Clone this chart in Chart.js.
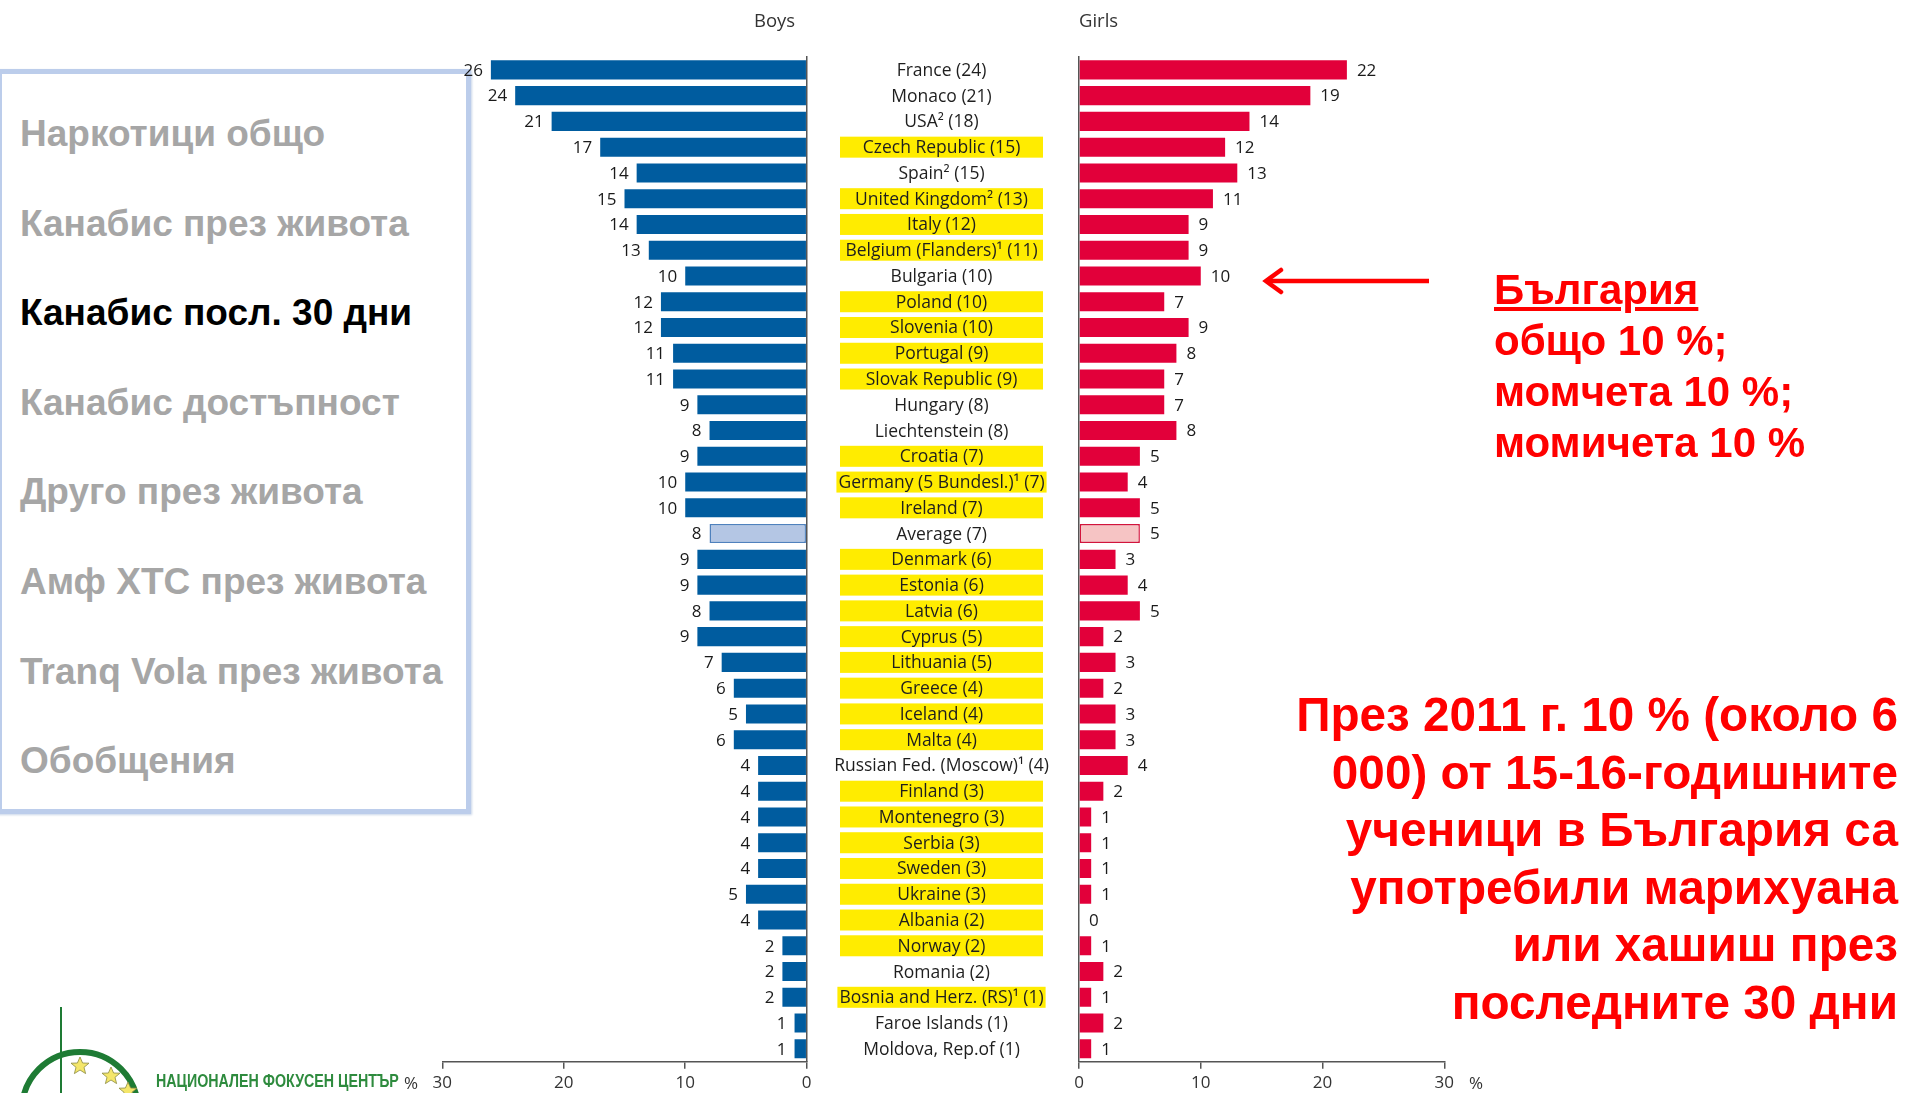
<!DOCTYPE html>
<html lang="bg">
<head>
<meta charset="utf-8">
<title>Канабис посл. 30 дни</title>
<script src="https://cdn.jsdelivr.net/npm/chart.js@4.4.1/dist/chart.umd.min.js"></script>
<style>
  body { margin: 0; background: #fff; width: 1907px; height: 1093px; overflow: hidden; position: relative;
         font-family: 'Liberation Sans', Arial, sans-serif; }
  canvas { position: absolute; left: 0; top: 0; }
  .menu-box { position: absolute; left: -3px; top: 69px; width: 474px; height: 745px; box-sizing: border-box;
              border: 5px solid #BCCDEB; box-shadow: 1px 1px 2px rgba(120,150,200,0.4); }
  .menu { position: absolute; left: 20px; font-weight: bold; font-size: 37px; line-height: 44px; color: #A6A6A6; white-space: nowrap; }
  .menu.active { color: #000; }
  .head { position: absolute; font-family: 'Open Sans', sans-serif; font-size: 18.5px; color: #333; line-height: 22px; }
  .pct { position: absolute; font-family: 'Open Sans', sans-serif; font-size: 17px; color: #333; line-height: 20px; }
  .note { position: absolute; color: #FF0000; font-weight: bold; white-space: nowrap; }
  #bg-note { left: 1494px; top: 264px; font-size: 42px; line-height: 51px; }
  #bg-note u { text-decoration-thickness: 4px; text-underline-offset: 3px; }
  #year-note { right: 9px; top: 686px; font-size: 47.7px; line-height: 57.6px; text-align: right; }
  #logo-text { position: absolute; left: 156px; top: 1069px; font-size: 19px; line-height: 24px; color: #2E8B3E;
               font-weight: bold; transform: scaleX(0.75); transform-origin: left center; white-space: nowrap; }
</style>
</head>
<body>

<div class="menu-box"></div>
<div id="menu"></div>

<canvas id="boysChart" width="1907" height="1093"></canvas>
<canvas id="girlsChart" width="1907" height="1093"></canvas>

<div class="head" style="left:754px; top:9px;">Boys</div>
<div class="head" style="left:1079px; top:9px;">Girls</div>
<div class="pct" style="left:404px; top:1073px;">%</div>
<div class="pct" style="left:1469px; top:1073px;">%</div>

<svg style="position:absolute; left:0; top:0;" width="1907" height="1093">
  <!-- arrow pointing to Bulgaria -->
  <line x1="1429" y1="281" x2="1268" y2="281" stroke="#FF0000" stroke-width="4.5"/>
  <polyline points="1281,270 1266,281 1281,292" fill="none" stroke="#FF0000" stroke-width="4.5" stroke-linecap="round"/>
  <!-- logo -->
  <line x1="61" y1="1007" x2="61" y2="1093" stroke="#1E7B34" stroke-width="2"/>
  <circle cx="80" cy="1110" r="58" fill="none" stroke="#1E7B34" stroke-width="6"/>
  <polygon points="0,-9 2.6,-3 9,-2.8 4,1.3 5.6,7.6 0,4 -5.6,7.6 -4,1.3 -9,-2.8 -2.6,-3"
           fill="#F4E66A" stroke="#8a8a40" stroke-width="0.8" transform="translate(80,1066)"/>
  <polygon points="0,-9 2.6,-3 9,-2.8 4,1.3 5.6,7.6 0,4 -5.6,7.6 -4,1.3 -9,-2.8 -2.6,-3"
           fill="#F4E66A" stroke="#8a8a40" stroke-width="0.8" transform="translate(111,1076)"/>
  <polygon points="0,-9 2.6,-3 9,-2.8 4,1.3 5.6,7.6 0,4 -5.6,7.6 -4,1.3 -9,-2.8 -2.6,-3"
           fill="#F4E66A" stroke="#8a8a40" stroke-width="0.8" transform="translate(128,1091)"/>
</svg>
<div id="logo-text">НАЦИОНАЛЕН ФОКУСЕН ЦЕНТЪР</div>

<div class="note" id="bg-note"><u>България</u><br>общо 10 %;<br>момчета 10 %;<br>момичета 10 %</div>
<div class="note" id="year-note">През 2011 г. 10 % (около 6<br>000) от 15-16-годишните<br>ученици в България са<br>употребили марихуана<br>или хашиш през<br>последните 30 дни</div>

<script>
// data
const countries = [
  'France (24)', 'Monaco (21)', 'USA² (18)', 'Czech Republic (15)', 'Spain² (15)',
  'United Kingdom² (13)', 'Italy (12)', 'Belgium (Flanders)¹ (11)', 'Bulgaria (10)', 'Poland (10)',
  'Slovenia (10)', 'Portugal (9)', 'Slovak Republic (9)', 'Hungary (8)', 'Liechtenstein (8)',
  'Croatia (7)', 'Germany (5 Bundesl.)¹ (7)', 'Ireland (7)', 'Average (7)', 'Denmark (6)',
  'Estonia (6)', 'Latvia (6)', 'Cyprus (5)', 'Lithuania (5)', 'Greece (4)',
  'Iceland (4)', 'Malta (4)', 'Russian Fed. (Moscow)¹ (4)', 'Finland (3)', 'Montenegro (3)',
  'Serbia (3)', 'Sweden (3)', 'Ukraine (3)', 'Albania (2)', 'Norway (2)',
  'Romania (2)', 'Bosnia and Herz. (RS)¹ (1)', 'Faroe Islands (1)', 'Moldova, Rep.of (1)'
];
const boys = [26, 24, 21, 17, 14, 15, 14, 13, 10, 12, 12, 11, 11, 9, 8, 9, 10, 10, 8, 9,
              9, 8, 9, 7, 6, 5, 6, 4, 4, 4, 4, 4, 5, 4, 2, 2, 2, 1, 1];
const girls = [22, 19, 14, 12, 13, 11, 9, 9, 10, 7, 9, 8, 7, 7, 8, 5, 4, 5, 5, 3,
               4, 5, 2, 3, 2, 3, 3, 4, 2, 1, 1, 1, 1, 0, 1, 2, 1, 2, 1];
// rows with the yellow label background
const highlighted = [0, 0, 0, 1, 0, 1, 1, 1, 0, 1, 1, 1, 1, 0, 0, 1, 1, 1, 0, 1,
                     1, 1, 1, 1, 1, 1, 1, 0, 1, 1, 1, 1, 1, 1, 1, 0, 1, 0, 0];
const xTicks = [0, 10, 20, 30];
const menuItems = ['Наркотици общо', 'Канабис през живота', 'Канабис посл. 30 дни', 'Канабис достъпност',
                   'Друго през живота', 'Амф XTC през живота', 'Tranq Vola през живота', 'Обобщения'];
const activeMenu = 2;

const avgIdx = countries.indexOf('Average (7)');
const FONT = "'Open Sans', sans-serif";

// left menu
const menu = document.getElementById('menu');
menuItems.forEach((t, i) => {
  const d = document.createElement('div');
  d.className = 'menu' + (i === activeMenu ? ' active' : '');
  d.style.top = (134 + i * 89.6 - 22) + 'px';
  d.textContent = t;
  menu.appendChild(d);
});

const valueLabels = {
  id: 'valueLabels',
  afterDatasetsDraw(chart, args, opts) {
    const ctx = chart.ctx;
    const data = chart.data.datasets[0].data;
    ctx.save();
    ctx.font = '17px ' + FONT;
    ctx.fillStyle = '#1a1a1a';
    ctx.textBaseline = 'middle';
    ctx.textAlign = opts.left ? 'right' : 'left';
    chart.getDatasetMeta(0).data.forEach((bar, i) => {
      ctx.fillText(String(data[i]), opts.left ? bar.x - 8 : bar.x + 10, bar.y + 1);
    });
    ctx.restore();
  }
};

const countryLabels = {
  id: 'countryLabels',
  afterDraw(chart) {
    const ctx = chart.ctx, y = chart.scales.y;
    const cx = 941.5;
    ctx.save();
    ctx.font = '17.5px ' + FONT;
    ctx.textAlign = 'center';
    ctx.textBaseline = 'middle';
    countries.forEach((name, i) => {
      const cy = y.getPixelForValue(i);
      if (highlighted[i]) {
        const bw = Math.max(203, ctx.measureText(name).width + 4);
        ctx.fillStyle = '#FFEC00';
        ctx.fillRect(cx - bw / 2, cy - 10.5, bw, 21);
      }
      ctx.fillStyle = '#1e1e1e';
      ctx.fillText(name, cx, cy + 1);
    });
    ctx.restore();
  }
};

function barChart(id, values, side) {
  const left = side === 'left';
  const main = left ? '#005C9F' : '#E2003A';
  const avgFill = left ? '#B4C6E4' : '#F6C4C4';
  const avgLine = left ? '#4F81BD' : '#D2143C';
  return new Chart(document.getElementById(id), {
    type: 'bar',
    data: {
      labels: countries,
      datasets: [{
        data: values,
        backgroundColor: values.map((v, i) => i === avgIdx ? avgFill : main),
        borderColor: values.map((v, i) => i === avgIdx ? avgLine : main),
        borderWidth: values.map((v, i) => i === avgIdx ? 1.5 : 0),
        borderSkipped: false,
        barPercentage: 0.74,
        categoryPercentage: 1
      }]
    },
    options: {
      indexAxis: 'y',
      responsive: false,
      animation: false,
      events: [],
      layout: {
        padding: left
          ? { left: 442.3, right: 1100.3, top: 57, bottom: 0 }
          : { left: 1079, right: 462.7, top: 57, bottom: 0 }
      },
      plugins: {
        legend: { display: false },
        tooltip: { enabled: false },
        valueLabels: { left: left }
      },
      scales: {
        x: {
          min: 0, max: 30, reverse: left,
          afterBuildTicks: s => { s.ticks = xTicks.map(v => ({ value: v })); },
          afterFit: s => { s.height = 31.3; },
          ticks: { color: '#333', font: { family: FONT, size: 17 }, padding: 4, maxRotation: 0 },
          grid: { display: true, drawOnChartArea: false, drawTicks: true, tickLength: 7, color: '#555', lineWidth: 1.5 },
          border: { display: true, color: '#555', width: 1.5 }
        },
        y: {
          position: left ? 'right' : 'left',
          afterFit: s => { s.width = 0; },
          ticks: { display: false },
          grid: { display: false },
          border: { display: true, color: '#555', width: 1.5 }
        }
      }
    },
    plugins: left ? [valueLabels] : [valueLabels, countryLabels]
  });
}

barChart('boysChart', boys, 'left');
barChart('girlsChart', girls, 'right');
</script>
</body>
</html>
